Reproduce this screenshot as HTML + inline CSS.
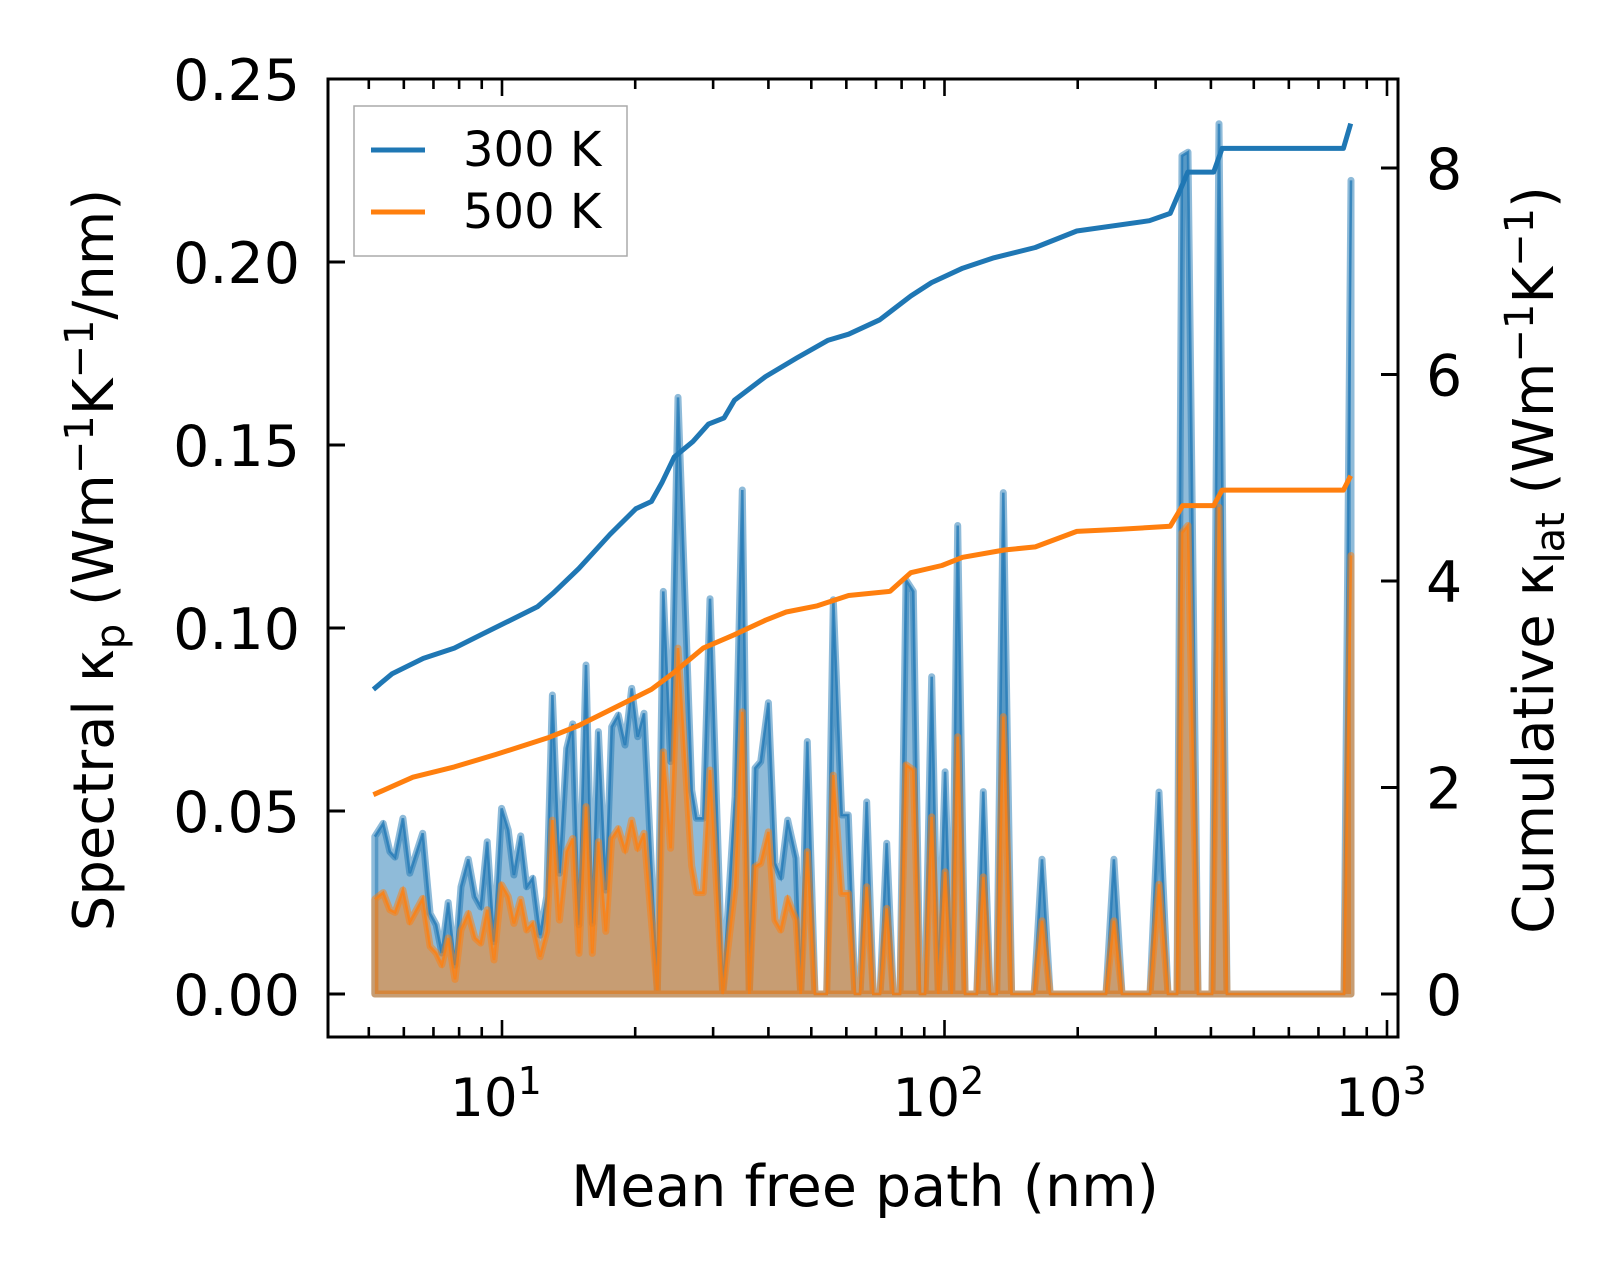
<!DOCTYPE html>
<html><head><meta charset="utf-8">
<style>
html,body{margin:0;padding:0;background:#fff;}
svg{display:block;font-family:"DejaVu Sans","Liberation Sans",sans-serif;}
</style></head>
<body>
<svg id="chart" width="1623" height="1275" viewBox="0 0 1623 1275" xmlns="http://www.w3.org/2000/svg">
<rect width="1623" height="1275" fill="#fff"/>
<g id="plot"></g>
</svg>
<script>
// Spectral data (mean free path nm, kappa_p)
const mfp = [5.16,5.39,5.58,5.73,5.97,6.19,6.62,6.88,7.10,7.31,7.56,7.83,8.08,8.39,8.69,8.95,9.26,9.59,9.98,10.33,10.64,11.02,11.37,11.73,12.19,12.62,13.00,13.48,14.00,14.45,14.93,15.48,16.00,16.51,17.16,17.70,18.32,18.97,19.64,20.26,20.94,22.44,23.15,24.05,24.99,26.84,27.5,28.50,29.51,31.54,33.63,34.91,36.22,37.32,38.43,39.99,41.40,42.65,44.23,46.19,47.32,48.98,50.98,54.18,56.07,58.58,60.62,62.78,64.42,66.71,69.05,71.50,74.04,76.63,79.34,81.85,85.02,88.03,90.35,93.56,96.83,100.3,103.8,107.1,111.3,118.3,122.4,126.7,131.2,135.8,141.8,159.4,166.1,173.2,231.7,241.5,251.8,291.3,305.3,320.0,335.3,344.1,355.0,374.1,402.3,417.2,434.9,799.6,829.2];
const spec300 = [0.043,0.0466,0.0389,0.0374,0.048,0.033,0.0439,0.022,0.0189,0.0112,0.025,0.0079,0.0293,0.0368,0.0266,0.0238,0.0416,0.0143,0.0507,0.0448,0.0325,0.0432,0.0293,0.0316,0.0161,0.0266,0.0817,0.033,0.0671,0.0738,0.0189,0.0899,0.0193,0.0717,0.0284,0.073,0.0762,0.068,0.0835,0.0703,0.0767,0.001,0.110,0.0635,0.163,0.0557,0.048,0.048,0.108,0,0.0539,0.1377,0,0.0617,0.0635,0.0796,0.0357,0.032,0.0475,0.0371,0,0.069,0,0,0.1077,0.0489,0.0489,0,0,0.0525,0,0,0.0412,0,0,0.1131,0.110,0,0,0.0867,0,0.0607,0,0.128,0,0,0.0553,0,0,0.137,0,0,0.0368,0,0,0.0368,0,0,0.0552,0,0,0.229,0.230,0,0,0.2378,0,0,0.2223];
const spec500 = [0.0259,0.0277,0.023,0.0223,0.0284,0.0197,0.0261,0.013,0.0112,0.008,0.0153,0.004,0.0175,0.022,0.0153,0.0139,0.023,0.0093,0.0298,0.0266,0.0193,0.0259,0.0175,0.0193,0.0102,0.0171,0.0475,0.0202,0.0389,0.0425,0.0111,0.0512,0.0111,0.0416,0.0171,0.0425,0.0452,0.0393,0.0475,0.0398,0.0439,0.001,0.0662,0.0398,0.0945,0.035,0.0277,0.0277,0.0612,0,0.0293,0.0771,0,0.0348,0.0357,0.0443,0.0202,0.0175,0.0261,0.0202,0,0.0389,0,0,0.0598,0.0275,0.0275,0,0,0.0293,0,0,0.0234,0,0,0.0626,0.0612,0,0,0.0484,0,0.0334,0,0.0703,0,0,0.032,0,0,0.0758,0,0,0.02,0,0,0.02,0,0,0.03,0,0,0.126,0.128,0,0,0.133,0,0,0.1198];
// Cumulative data
const cumX300 = [5.12,5.64,6.64,7.80,9.17,10.22,12.02,13.03,14.91,17.53,20.07,21.76,22.97,24.50,27.01,29.29,31.76,33.51,39.40,46.34,54.47,60.70,71.37,83.90,93.47,109.9,129.3,160.4,199.1,290.4,323.6,354.6,405.9,424.0,797.2,827.9];
const cum300 = [2.95,3.10,3.25,3.35,3.50,3.60,3.75,3.88,4.12,4.45,4.70,4.77,4.95,5.20,5.35,5.52,5.58,5.75,5.98,6.16,6.33,6.39,6.53,6.76,6.89,7.03,7.13,7.23,7.39,7.49,7.56,7.96,7.96,8.19,8.19,8.43];
const cumX500 = [5.12,6.29,7.80,9.68,12.68,14.91,18.51,21.76,24.24,28.50,33.51,39.40,43.89,51.61,60.70,75.33,83.90,98.65,109.9,136.4,160.4,199.1,247.0,323.6,345.2,405.9,424.0,797.2,827.9];
const cum500 = [1.93,2.10,2.20,2.32,2.48,2.60,2.80,2.95,3.10,3.35,3.48,3.62,3.70,3.76,3.86,3.90,4.08,4.15,4.23,4.30,4.33,4.48,4.50,4.53,4.73,4.73,4.88,4.88,5.02];
const leftTicks = [0,0.05,0.10,0.15,0.20,0.25];
const leftTickLabels = ["0.00","0.05","0.10","0.15","0.20","0.25"];
const rightTicks = [0,2,4,6,8];
const xMajor = [1,2,3];

const L=328,R=1398,T=79,B=1037;
const X=v=>502+(Math.log10(v)-1)*442.5;
const YL=v=>994-v*3660;
const YR=v=>994-v*103.25;
const NS="http://www.w3.org/2000/svg";
const g=document.getElementById('plot');
function mk(tag,attrs,parent){const e=document.createElementNS(NS,tag);for(const k in attrs)e.setAttribute(k,attrs[k]);(parent||g).appendChild(e);return e;}

function area(ys,color,name){
  let d='M'+X(mfp[0])+','+YL(0);
  for(let i=0;i<mfp.length;i++)d+=' L'+X(mfp[i]).toFixed(1)+','+YL(ys[i]).toFixed(1);
  d+=' L'+X(mfp[mfp.length-1])+','+YL(0)+' Z';
  const p=mk('path',{d:d,fill:color,'fill-opacity':0.5,stroke:color,'stroke-opacity':0.5,'stroke-width':7,'stroke-linejoin':'round'});
  
  
  let d2='';
  for(let i=0;i<mfp.length;i++)d2+=(i?' L':'M')+X(mfp[i]).toFixed(1)+','+YL(ys[i]).toFixed(1);
  const l=mk('path',{d:d2,fill:'none',stroke:color,'stroke-opacity':0.75,'stroke-width':2.6});
  
  
}
area(spec300,'#1f77b4','spectral-300k');
area(spec500,'#ff7f0e','spectral-500k');

function cline(xs,ys,color,name){
  let d='';
  for(let i=0;i<xs.length;i++)d+=(i?' L':'M')+X(xs[i]).toFixed(1)+','+YR(ys[i]).toFixed(1);
  const p=mk('path',{d:d,fill:'none',stroke:color,'stroke-width':5,'stroke-linejoin':'round'});
  
  
}
cline(cumX300,cum300,'#1f77b4','cumulative-300k');
cline(cumX500,cum500,'#ff7f0e','cumulative-500k');

const fr=mk('rect',{x:L,y:T,width:R-L,height:B-T,fill:'none',stroke:'#000','stroke-width':3});



leftTicks.forEach((v,i)=>{
  const y=YL(v);
  mk('line',{x1:L,x2:L+17,y1:y,y2:y,stroke:'#000','stroke-width':3});
  const t=mk('text',{x:300,y:y+21,'text-anchor':'end','font-size':57});
  t.textContent=leftTickLabels[i];
  
  
});
rightTicks.forEach(v=>{
  const y=YR(v);
  mk('line',{x1:R-17,x2:R,y1:y,y2:y,stroke:'#000','stroke-width':3});
  const t=mk('text',{x:1426,y:y+21,'text-anchor':'start','font-size':57});
  t.textContent=String(v);
  
  
});
for(let e=0;e<=3;e++){
  for(let m=1;m<10;m++){
    const v=m*Math.pow(10,e);
    const x=X(v);
    if(x<L+1||x>R-1)continue;
    const len=m===1?17:10;
    mk('line',{x1:x,x2:x,y1:B,y2:B-len,stroke:'#000','stroke-width':2.6});
    mk('line',{x1:x,x2:x,y1:T,y2:T+len,stroke:'#000','stroke-width':2.6});
  }
}
xMajor.forEach(p=>{
  const x=X(Math.pow(10,p));
  const t=mk('text',{x:x-6,y:1116,'text-anchor':'middle','font-size':53});
  t.textContent='10';
  const s=mk('tspan',{dy:-22,'font-size':38},t);
  s.textContent=String(p);
  
  
});
</script>
<svg style="position:absolute;left:0;top:0" width="1623" height="1275" xmlns="http://www.w3.org/2000/svg" font-family="DejaVu Sans, Liberation Sans, sans-serif">
<text x="865" y="1206" text-anchor="middle" font-size="57">Mean free path (nm)</text>
<text transform="translate(113,560) rotate(-90)" text-anchor="middle" font-size="56">Spectral κ<tspan font-size="40" dy="11">p</tspan><tspan dy="-11"> (Wm</tspan><tspan font-size="40" dy="-20">−1</tspan><tspan dy="20">K</tspan><tspan font-size="40" dy="-20">−1</tspan><tspan dy="20">/nm)</tspan></text>
<text transform="translate(1553,560) rotate(-90)" text-anchor="middle" font-size="56">Cumulative κ<tspan font-size="40" dy="11">lat</tspan><tspan dy="-11"> (Wm</tspan><tspan font-size="40" dy="-20">−1</tspan><tspan dy="20">K</tspan><tspan font-size="40" dy="-20">−1</tspan><tspan dy="20">)</tspan></text>
<g>
<rect x="354" y="106" width="273" height="150" fill="#fff" fill-opacity="0.8" stroke="#aaa" stroke-width="1.5"/>
<line x1="371" x2="425" y1="150" y2="150" stroke="#1f77b4" stroke-width="5"/>
<text x="463" y="166" font-size="48">300 K</text>
<line x1="371" x2="425" y1="212" y2="212" stroke="#ff7f0e" stroke-width="5"/>
<text x="463" y="228" font-size="48">500 K</text>
</g>
</svg>
</body></html>
